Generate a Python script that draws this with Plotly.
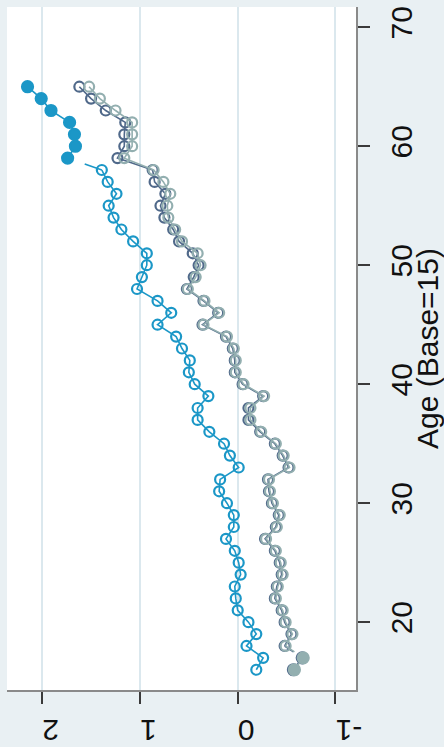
import plotly.graph_objects as go

# Ages 16..65 (base age 15)
ages = list(range(16, 66))

# Estimated age effects, three series
blue_vals = [
    -0.19, -0.26, -0.09, -0.19, -0.11, 0.00, 0.02, 0.03, -0.03, -0.01,
    0.03, 0.12, 0.04, 0.04, 0.11, 0.19, 0.18, -0.01, 0.08, 0.14,
    0.29, 0.41, 0.41, 0.30, 0.44, 0.50, 0.49, 0.57, 0.63, 0.82,
    0.68, 0.82, 1.03, 0.98, 0.93, 0.93, 1.07, 1.19, 1.27, 1.32,
    1.24, 1.33, 1.39, 1.74, 1.66, 1.67, 1.72, 1.91, 2.01, 2.15,
]
gray_vals = [
    -0.58, -0.67, -0.49, -0.56, -0.49, -0.46, -0.39, -0.41, -0.46, -0.44,
    -0.39, -0.29, -0.40, -0.43, -0.36, -0.33, -0.32, -0.53, -0.47, -0.39,
    -0.24, -0.13, -0.13, -0.27, -0.06, 0.02, 0.02, 0.04, 0.11, 0.35,
    0.19, 0.34, 0.51, 0.43, 0.38, 0.41, 0.57, 0.64, 0.71, 0.72,
    0.69, 0.76, 0.86, 1.16, 1.08, 1.08, 1.08, 1.25, 1.41, 1.52,
]
dark_vals = [
    -0.57, -0.66, -0.48, -0.55, -0.48, -0.45, -0.38, -0.40, -0.45, -0.43,
    -0.38, -0.28, -0.39, -0.42, -0.35, -0.32, -0.31, -0.52, -0.46, -0.38,
    -0.23, -0.11, -0.11, -0.26, -0.05, 0.03, 0.03, 0.05, 0.12, 0.36,
    0.20, 0.35, 0.52, 0.45, 0.40, 0.46, 0.60, 0.66, 0.75, 0.79,
    0.74, 0.85, 0.87, 1.23, 1.16, 1.16, 1.15, 1.35, 1.50, 1.62,
]
# Ages drawn with solid markers per series
blue_solid = list(range(59, 66))
gray_solid = [16, 17]
dark_solid = [16, 17]

value_ticks = [-1, 0, 1, 2]
age_ticks = [20, 30, 40, 50, 60, 70]

BLUE = "#1b97c7"
GRAY = "#93afb0"
DARK = "#50698a"


def runs(solid_ages):
    """Split the age index into consecutive runs sharing a marker style."""
    out, start = [], 0
    for i in range(1, len(ages) + 1):
        if i == len(ages) or (ages[i] in solid_ages) != (ages[start] in solid_ages):
            out.append((start, i, ages[start] in solid_ages))
            start = i
    return out


def add_series(fig, vals, color, solid_ages):
    segs = runs(solid_ages)
    # each run is connected on its own
    for s, e, solid in segs:
        fig.add_trace(go.Scatter(
            x=vals[s:e], y=ages[s:e], mode="lines+markers",
            line=dict(color=color, width=1.6),
            marker=dict(symbol="circle" if solid else "circle-open",
                        size=11 if solid else 10, color=color,
                        line=dict(color=color, width=2.2)),
            showlegend=False, hoverinfo="skip",
        ))
    # the hollow side of a run boundary draws half of the joining segment
    for k in range(len(segs) - 1):
        a_end = segs[k][1] - 1
        b_start = segs[k + 1][0]
        if segs[k][2]:
            src, dst = b_start, a_end
        else:
            src, dst = a_end, b_start
        fig.add_trace(go.Scatter(
            x=[vals[src], (vals[src] + vals[dst]) / 2],
            y=[ages[src], (ages[src] + ages[dst]) / 2],
            mode="lines", line=dict(color=color, width=1.6),
            showlegend=False, hoverinfo="skip",
        ))


fig = go.Figure()
add_series(fig, dark_vals, DARK, dark_solid)
add_series(fig, gray_vals, GRAY, gray_solid)
add_series(fig, blue_vals, BLUE, blue_solid)

fig.update_layout(
    width=444, height=747,
    margin=dict(l=7, r=88, t=7, b=57),
    paper_bgcolor="#e9f0f3",
    plot_bgcolor="#ffffff",
    font=dict(family="Liberation Sans, Arial, sans-serif", size=30, color="#111111"),
    xaxis=dict(
        range=[2.36, -1.21],
        tickvals=value_ticks,
        ticktext=[str(v) for v in value_ticks],
        tickangle=180,
        ticks="outside", ticklen=12, tickwidth=2, tickcolor="#3a3a3a",
        ticklabelstandoff=10,
        showline=True, linecolor="#8a8a8a", linewidth=2, mirror=False,
        showgrid=True, gridcolor="#dbe8ee", gridwidth=1.5,
        zeroline=False, automargin=False,
    ),
    yaxis=dict(
        range=[14.3, 71.7],
        side="right",
        tickvals=age_ticks,
        tickangle=-90,
        ticks="outside", ticklen=12, tickwidth=2, tickcolor="#3a3a3a",
        ticklabelstandoff=6,
        showline=True, linecolor="#8a8a8a", linewidth=2, mirror=False,
        showgrid=False, zeroline=False, automargin=False,
        title=dict(text="Age (Base=15)", font=dict(size=30), standoff=10),
    ),
)

fig.write_html("out.html")
